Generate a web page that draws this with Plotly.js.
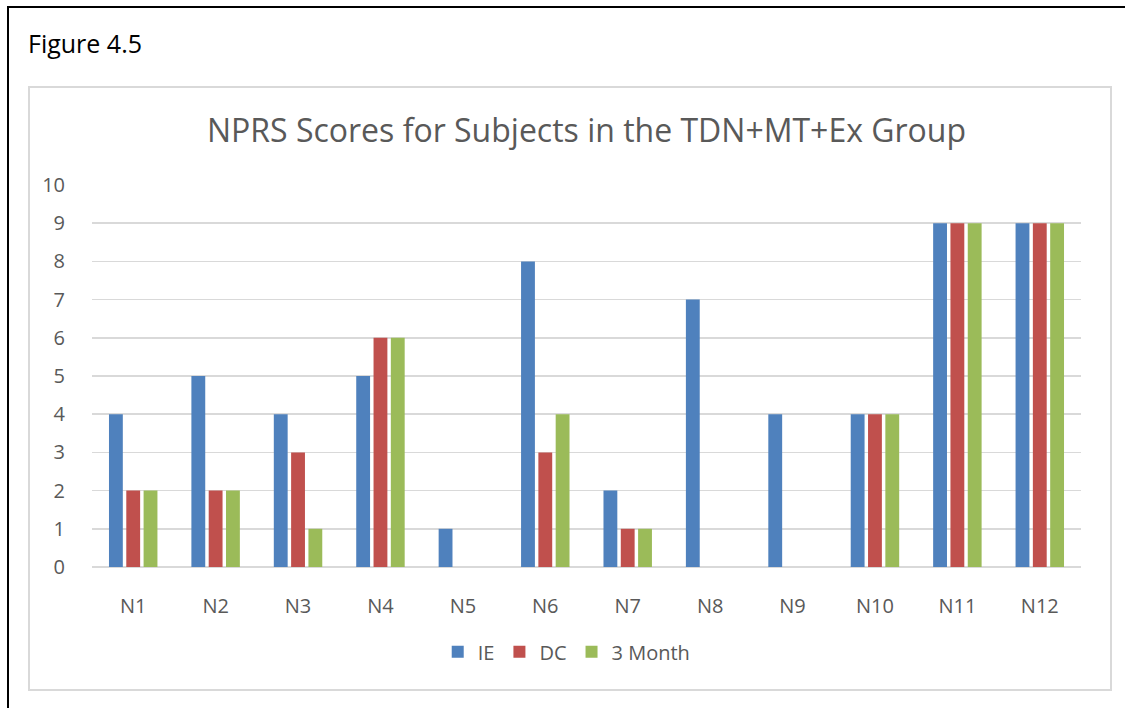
<!DOCTYPE html>
<html>
<head>
<meta charset="utf-8">
<script src="https://cdn.plot.ly/plotly-3.0.1.min.js"></script>
<style>
  html, body { margin: 0; padding: 0; background: #fff; }
  #wrap { position: relative; width: 1125px; height: 708px; overflow: hidden; }
  #chart { position: absolute; left: 0; top: 0; width: 1125px; height: 708px; }
  #outer { position: absolute; left: 7px; top: 6px; width: 1200px; height: 800px;
           border-top: 2px solid #000; border-left: 2px solid #000; pointer-events: none; }
  #inner { position: absolute; left: 28px; top: 86px; width: 1080px; height: 601px;
           border: 2px solid #d9d9d9; pointer-events: none; }
  #fig { position: absolute; left: 28px; top: 26px; font-family: "Open Sans", "Noto Sans", sans-serif;
         font-size: 25px; line-height: 34px; color: #000; }
</style>
</head>
<body>
<div id="wrap">
  <div id="chart"></div>
  <div id="outer"></div>
  <div id="inner"></div>
  <div id="fig">Figure 4.5</div>
</div>
<script>
const categories = ["N1","N2","N3","N4","N5","N6","N7","N8","N9","N10","N11","N12"];
const ieValues = [4,5,4,5,1,8,2,7,4,4,9,9];
const dcValues = [2,2,3,6,0,3,1,0,0,4,9,9];
const month3Values = [2,2,1,6,0,4,1,0,0,4,9,9];
const yTicks = [0,1,2,3,4,5,6,7,8,9,10];

const FONT = '"Open Sans", "Noto Sans", sans-serif';

const mk = (name, y, color) => ({
  type: 'bar', name: name, x: categories, y: y,
  marker: { color: color, line: { width: 0 } },
  hoverinfo: 'x+y+name'
});

const data = [
  mk('IE', ieValues, '#4F81BD'),
  mk('DC', dcValues, '#C0504D'),
  mk('3 Month', month3Values, '#9BBB59')
];

const layout = {
  width: 1125, height: 708,
  margin: { l: 92, r: 44, t: 185, b: 141, pad: 0 },
  paper_bgcolor: 'rgba(0,0,0,0)', plot_bgcolor: 'rgba(0,0,0,0)',
  font: { family: FONT, color: '#595959', size: 16 },
  title: { text: 'NPRS Scores for Subjects in the TDN+MT+Ex Group',
           font: { size: 32, color: '#595959', family: FONT },
           x: 0.5, xref: 'paper', xanchor: 'center', y: 1 - 131/708, yref: 'container', yanchor: 'middle' },
  barmode: 'group', bargap: 0.37, bargroupgap: 0.2,
  xaxis: { type: 'category', showgrid: false, zeroline: false, showline: false,
           ticks: 'outside', ticklen: 21, tickcolor: 'rgba(0,0,0,0)',
           tickfont: { size: 20, color: '#595959', family: FONT } },
  yaxis: { range: [0, 10], tickvals: yTicks, showgrid: true, gridcolor: '#d9d9d9', gridwidth: 1.5,
           zeroline: true, zerolinecolor: '#d9d9d9', zerolinewidth: 1.5, showline: false,
           ticks: 'outside', ticklen: 22, tickcolor: 'rgba(0,0,0,0)',
           tickfont: { size: 20, color: '#595959', family: FONT } },
  showlegend: true,
  legend: { orientation: 'h', x: 0.48, xanchor: 'center', y: -0.222, yanchor: 'middle',
            font: { size: 20, color: '#595959', family: FONT }, itemwidth: 30, traceorder: 'normal' }
};

Plotly.newPlot('chart', data, layout, { displayModeBar: false, staticPlot: true });
</script>
</body>
</html>
